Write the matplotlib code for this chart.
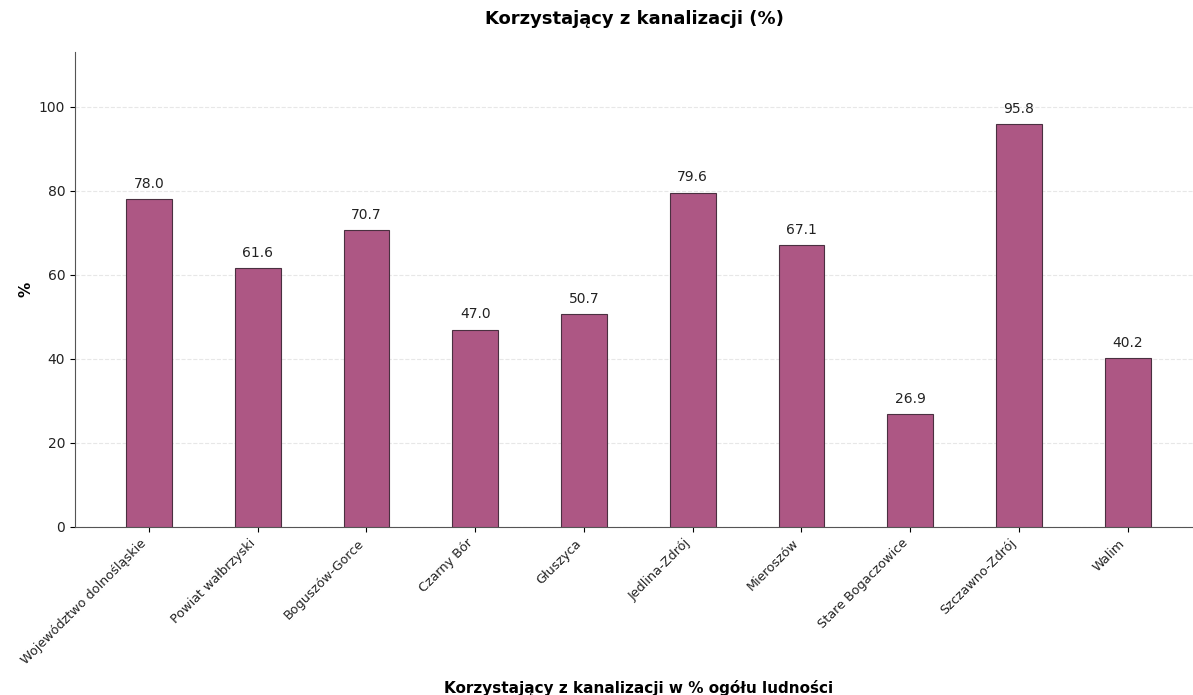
import matplotlib
matplotlib.use('Agg')
import matplotlib.pyplot as plt
import numpy as np

categories = ['Województwo dolnośląskie', 'Powiat wałbrzyski', 'Boguszów-Gorce',
              'Czarny Bór', 'Głuszyca', 'Jedlina-Zdrój', 'Mieroszów',
              'Stare Bogaczowice', 'Szczawno-Zdrój', 'Walim']
values = [78.0, 61.6, 70.7, 47.0, 50.7, 79.6, 67.1, 26.9, 95.8, 40.2]

fig = plt.figure(figsize=(11.93, 6.95), dpi=100)
ax = fig.add_axes([75 / 1193, 168 / 695, 1118 / 1193, 475 / 695])

x = np.arange(len(categories))
ax.bar(x, values, width=0.42, color='#ad5784', edgecolor='#4a3040', linewidth=0.8, zorder=3)

# value labels above bars
for xi, v in zip(x, values):
    ax.text(xi, v + 2, f'{v:.1f}', ha='center', va='bottom', fontsize=10, color='#222222')

ax.set_xlim(-0.68, 9.6)
ax.set_ylim(0, max(values) * 1.18)
ax.set_xticks(x)
ax.set_xticklabels(categories, rotation=45, ha='right', fontsize=9.2, color='#222222')
ax.tick_params(axis='y', labelsize=10, labelcolor='#222222')
ax.yaxis.grid(True, linestyle='--', color='#dddddd', alpha=0.7, zorder=0)
for s in ('top', 'right'):
    ax.spines[s].set_visible(False)
for s in ('left', 'bottom'):
    ax.spines[s].set_color('#555555')

ax.set_title('Korzystający z kanalizacji (%)', fontsize=13, fontweight='bold', pad=20)
ax.set_ylabel('%', fontsize=11, fontweight='bold')
fig.text(0.535, 1 - 688 / 695, 'Korzystający z kanalizacji w % ogółu ludności',
         ha='center', va='center', fontsize=11, fontweight='bold')

fig.savefig('out.png', dpi=100)
